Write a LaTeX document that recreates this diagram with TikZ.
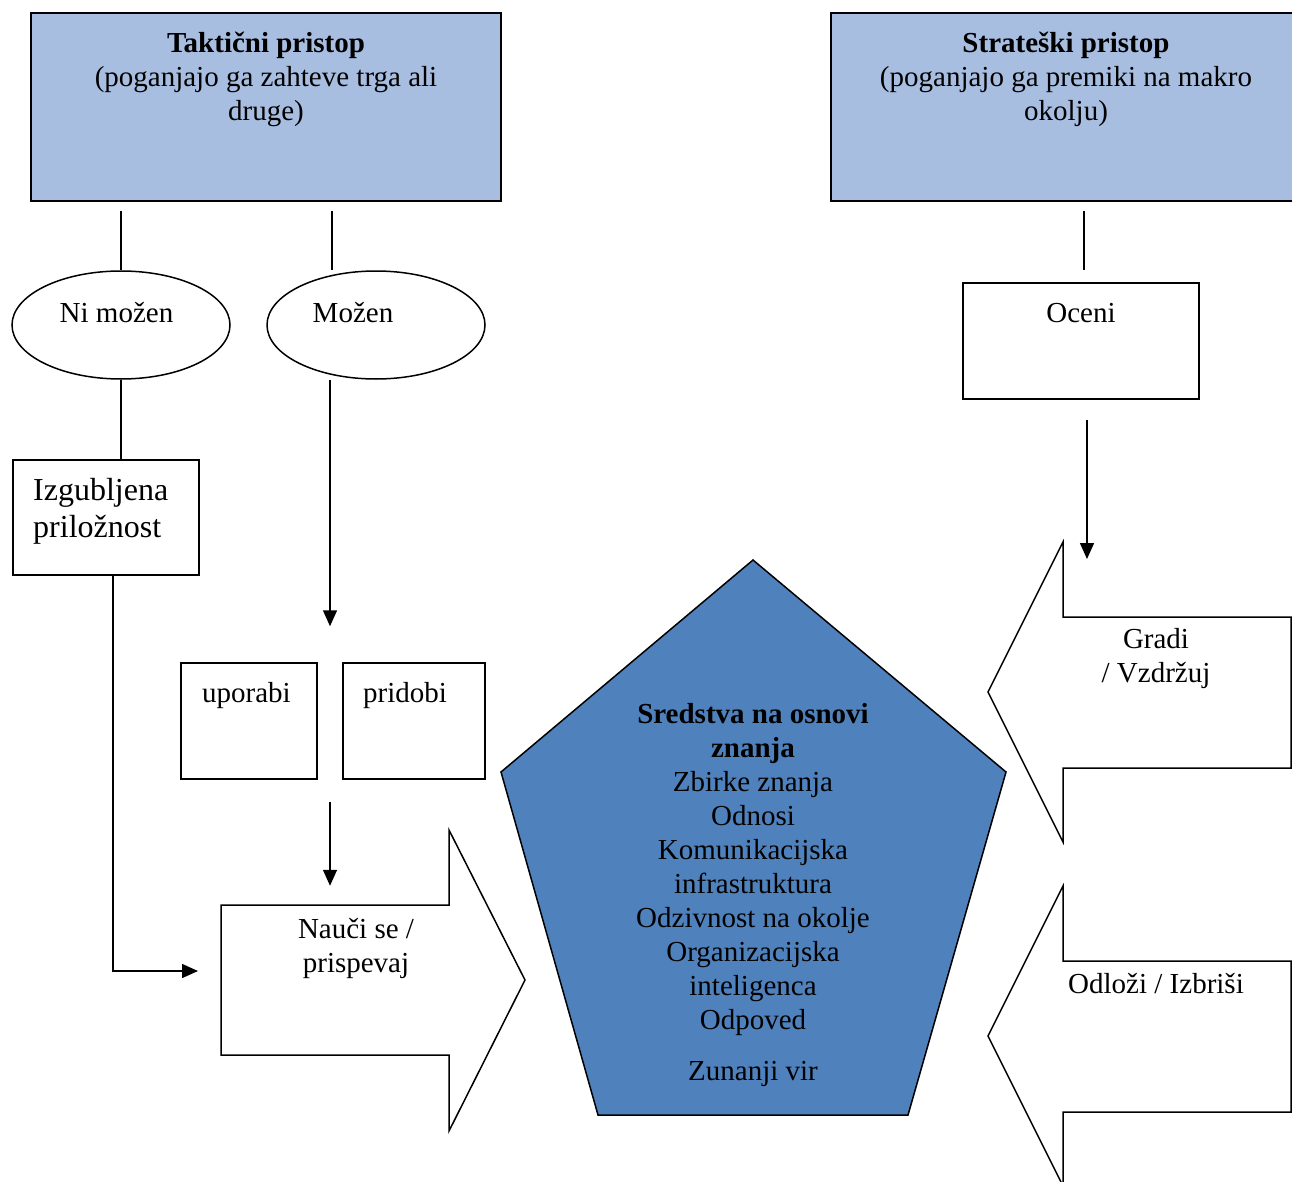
\documentclass[tikz,border=0pt]{standalone}
\usepackage{fontspec}
\setmainfont{Liberation Serif}
\usetikzlibrary{calc,shapes.geometric,arrows.meta}
\definecolor{svetlomodra}{RGB}{168,190,224}
\definecolor{petkotnik}{RGB}{79,129,189}
\tikzset{
	okvir/.style={draw, line width=1.5pt, inner sep=0pt},
	glava/.style={okvir, fill=svetlomodra, line width=2.2pt, minimum height=188pt},
	elipsa/.style={okvir, ellipse, minimum width=218pt, minimum height=108pt},
	besedilo/.style={inner sep=0pt, align=center},
	crta/.style={line width=1.5pt},
	puscica/.style={crta, -{Triangle[length=16pt,width=14pt]}},
	blok/.style={draw, line width=1.5pt, fill=white, line join=miter},
}

\begin{document}
\begin{tikzpicture}[x=1pt, y=-1pt, font=\fontsize{29}{34}\selectfont]
			\useasboundingbox (0,0) rectangle (1292,1182);
			\clip (0,0) rectangle (1292,1182);
			
			%%%%% glavi %%%%%
			\node[glava, minimum width=470pt] (taktik) at (266,107) {};
			\node[besedilo, anchor=north] (taktiktxt) at (266,32) {\textbf{Taktični pristop}\\(poganjajo ga zahteve trga ali\\druge)};
			\node[glava, minimum width=470pt] (strateg) at (1066,107) {};
			\node[besedilo, anchor=north] (strategtxt) at (1066,32) {\textbf{Strateški pristop}\\(poganjajo ga premiki na makro\\okolju)};
			
			%%%%% levo %%%%%
			\node[elipsa] (nimozen) at (121,325) {};
			\node[besedilo, anchor=base] (nimozentxt) at (116.5,322) {Ni možen};
			\node[elipsa] (mozen) at (376,325) {};
			\node[besedilo, anchor=base] (mozentxt) at (353,322) {Možen};
			
			\node[okvir, minimum width=186pt, minimum height=115pt] (izgub) at (106,517.5) {};
			\node[besedilo, align=left, anchor=north west, font=\fontsize{32}{37}\selectfont] (izgubtxt) at (33,478) {Izgubljena\\priložnost};
			
			\node[okvir, minimum width=136pt, minimum height=116pt] (uporabi) at (249,721) {};
			\node[besedilo, anchor=base west] (uporabitxt) at (202,702) {uporabi};
			\node[okvir, minimum width=142pt, minimum height=116pt] (pridobi) at (414,721) {};
			\node[besedilo, anchor=base west] (pridobitxt) at (363,702) {pridobi};
			
			\draw[blok] (221,905) -- (449,905) -- (449,830) -- (525,980) -- (449,1131) -- (449,1055) -- (221,1055) -- cycle;
			\node[besedilo, anchor=north] (nauci) at (356,918) {Nauči se /\\prispevaj};
			
			%%%%% sredina %%%%%
			\draw[line width=1.5pt, fill=petkotnik] (753,560) -- (1006,772) -- (908,1115) -- (598,1115) -- (501,772) -- cycle;
			\node[besedilo, anchor=north] (sredstva) at (753,703) {\textbf{Sredstva na osnovi}\\\textbf{znanja}\\Zbirke znanja\\Odnosi\\Komunikacijska\\infrastruktura\\Odzivnost na okolje\\Organizacijska\\inteligenca\\Odpoved\\[17pt]Zunanji vir};
			
			%%%%% desno %%%%%
			\node[okvir, minimum width=236pt, minimum height=116pt] (oceni) at (1081,341) {};
			\node[besedilo, anchor=base] (ocenitxt) at (1081,322) {Oceni};
			
			\draw[blok] (1291,617) -- (1063,617) -- (1063,542) -- (988,692) -- (1063,842) -- (1063,768) -- (1291,768) -- cycle;
			\node[besedilo, anchor=north] (gradi) at (1156,628) {Gradi\\/ Vzdržuj};
			
			\draw[blok] (1291,961) -- (1063,961) -- (1063,886) -- (988,1036) -- (1063,1186) -- (1063,1112) -- (1291,1112) -- cycle;
			\node[besedilo, anchor=base] (odlozi) at (1156,993) {Odloži / Izbriši};
			
			%%%%% povezave %%%%%
			\coordinate (mozenvhod) at ($(mozen.north)+(-44,0)$);
			\coordinate (zgorajpuscica) at ($(uporabi.north east)!0.5!(pridobi.north west)+(0,-36)$);
			\coordinate (naucivrh) at ($(uporabi.south east)!0.5!(pridobi.south west)+(0,106)$);
			\coordinate (naucilevo) at (198,971);
			\coordinate (gradivrh) at (1087,559);
			
			\draw[crta, shorten <=9pt] (taktik.south -| nimozen.north) -- (nimozen.north);
			\draw[crta, shorten <=9pt] (taktik.south -| mozenvhod) -- (mozenvhod);
			\draw[crta, shorten <=9pt, shorten >=12pt] ([xshift=3pt]strateg.south -| oceni.north) -- ([xshift=3pt]oceni.north);
			\draw[crta] (nimozen.south) -- (izgub.north -| nimozen.south);
			\draw[puscica] (zgorajpuscica |- mozen.south) -- (zgorajpuscica);
			\draw[puscica, shorten <=22pt] (naucivrh |- uporabi.south) -- (naucivrh);
			\draw[puscica] ([xshift=7pt]izgub.south) |- (naucilevo);
			\draw[puscica, shorten <=20pt] (oceni.south -| gradivrh) -- (gradivrh);
			
\end{tikzpicture}
\end{document}
